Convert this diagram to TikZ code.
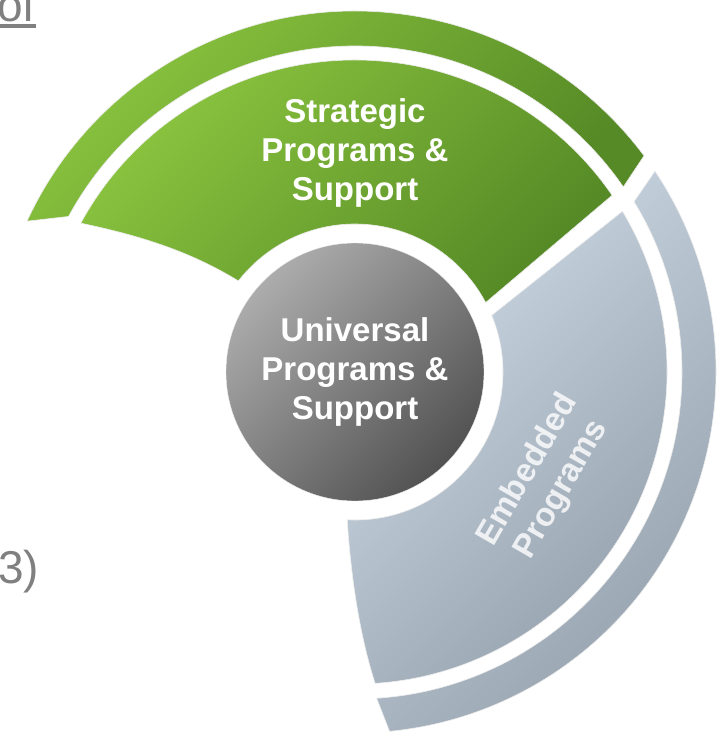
\documentclass[tikz,border=0pt]{standalone}
\usepackage{fontspec}
\setmainfont{Liberation Sans}
\usetikzlibrary{positioning}

\definecolor{greenlight}{RGB}{143,201,65}
\definecolor{greendark}{RGB}{86,138,38}
\definecolor{graylight}{RGB}{204,216,228}
\definecolor{graydark}{RGB}{146,158,170}
\definecolor{corelight}{RGB}{172,172,172}
\definecolor{coredark}{RGB}{82,82,82}
\definecolor{slidegray}{RGB}{128,128,128}

\begin{document}
\begin{tikzpicture}[x=1pt, y=1pt,
		band/.style={draw=white!85!gray, line width=0.6pt},
		greenband/.style={band, top color=greenlight, bottom color=greendark, shading angle=45},
		grayband/.style={band, top color=graylight, bottom color=graydark, shading angle=45},
		bandtext/.style={text=white, font=\bfseries\fontsize{33}{39}\selectfont, align=center},
		slidetext/.style={text=slidegray, font=\fontsize{46}{50}\selectfont, inner sep=0pt}]
		\useasboundingbox (-355,-364) rectangle (370,372);
		
		%Strategic bands
		\shade[greenband] (36.8:361) arc[start angle=36.8, end angle=155.3, radius=361] -- (151.5:326) arc[start angle=151.5, end angle=34.6, radius=326] -- cycle;
		\shade[greenband] (34.5:312) arc[start angle=34.5, end angle=151.5, radius=312] .. controls (-218,137) and (-167,122) .. (142:148) arc[start angle=142, end angle=28, radius=148] -- cycle;
		
		%Embedded bands
		\shade[grayband] (22.5:148) -- (31:312) arc[start angle=31, end angle=-86.3, radius=312] .. controls (2,-255) and (-5,-191) .. (-93:148) arc[start angle=-93, end angle=22.5, radius=148] -- cycle;
		\shade[grayband] (33.8:361) arc[start angle=33.8, end angle=-84.5, radius=361] -- (-86.2:327) arc[start angle=-86.2, end angle=31.4, radius=327] -- cycle;
		
		%Nodes
		\node[circle, minimum size=258, inner sep=0pt, draw=white!85!gray, top color=corelight, bottom color=coredark, shading angle=45, bandtext] (core) at (0,0) {Universal\\Programs \&\\Support};
		\node[bandtext] (strategic) at (0,219) {Strategic\\Programs \&\\Support};
		\node[bandtext, rotate=60, text opacity=0.8] (embedded) at (190,-108) {Embedded\\Programs};
		
		%Slide text
		\node[slidetext, anchor=base west] (of) at (-358,350) {of};
		\draw[slidegray, line width=3.5pt] ([yshift=-4pt]of.base west) -- ([yshift=-4pt]of.base east);
		\node[slidetext, anchor=base west] (three) at (-357,-211) {3)};
	\end{tikzpicture}
\end{document}
